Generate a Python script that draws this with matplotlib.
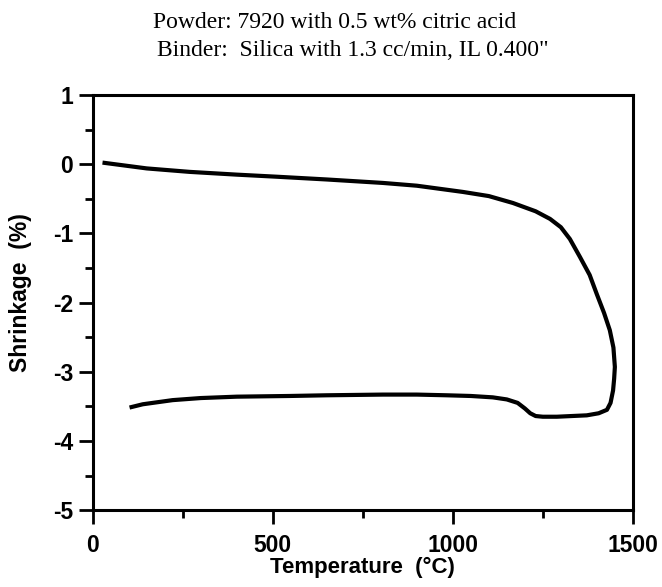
import numpy as np
import matplotlib.pyplot as plt
from matplotlib.ticker import MultipleLocator

plt.rcParams['font.family'] = ['Liberation Sans', 'DejaVu Sans']
plt.rcParams['axes.unicode_minus'] = False

# 收缩率曲线 (升温 -> 最高温 -> 降温)
temperature = [33, 150, 269, 400, 511, 650, 806, 900, 1028, 1100, 1167, 1230,
               1270, 1300, 1325, 1353, 1380, 1400, 1420, 1436, 1446, 1450, 1448,
               1445, 1438, 1428, 1405, 1372, 1330, 1289, 1250, 1230, 1215, 1200,
               1180, 1150, 1111, 1050, 983, 900, 806, 650, 547, 400, 300, 222,
               139, 108]
shrinkage = [0.02, -0.06, -0.11, -0.15, -0.18, -0.22, -0.27, -0.31, -0.40, -0.46,
             -0.56, -0.68, -0.79, -0.91, -1.08, -1.34, -1.60, -1.88, -2.15, -2.40,
             -2.65, -2.93, -3.10, -3.27, -3.45, -3.55, -3.60, -3.63, -3.64, -3.65,
             -3.65, -3.64, -3.60, -3.53, -3.45, -3.40, -3.37, -3.35, -3.34, -3.33,
             -3.33, -3.34, -3.35, -3.36, -3.38, -3.41, -3.47, -3.51]

fig = plt.figure(figsize=(6.62, 5.87), dpi=100)
ax = fig.add_axes([0.140, 0.131, 0.816, 0.707])

ax.plot(temperature, shrinkage, color='black', linewidth=3)

ax.set_xlim(0, 1500)
ax.set_ylim(-5, 1)
ax.xaxis.set_major_locator(MultipleLocator(500))
ax.xaxis.set_minor_locator(MultipleLocator(250))
ax.yaxis.set_major_locator(MultipleLocator(1))
ax.yaxis.set_minor_locator(MultipleLocator(0.5))

ax.tick_params(axis='both', which='major', direction='out', length=10, width=2,
               labelsize=16.5)
ax.tick_params(axis='both', which='minor', direction='out', length=6, width=2)
ax.tick_params(axis='x', which='major', pad=7)
ax.tick_params(axis='y', which='major', pad=4)
for lbl in ax.get_xticklabels() + ax.get_yticklabels():
    lbl.set_fontweight('bold')

for sp in ax.spines.values():
    sp.set_linewidth(2.2)

ax.set_xlabel('Temperature  (°C)', fontsize=16, fontweight='bold', labelpad=0)
ax.set_ylabel('Shrinkage  (%)', fontsize=16.5, fontweight='bold')
ax.yaxis.set_label_coords(-0.112, 0.525)

fig.text(0.506, 0.962, 'Powder: 7920 with 0.5 wt% citric acid', ha='center', va='center',
         fontsize=17, family='Liberation Serif')
fig.text(0.533, 0.914, 'Binder:  Silica with 1.3 cc/min, IL 0.400"', ha='center', va='center',
         fontsize=17, family='Liberation Serif')

fig.savefig('out.png', dpi=100, facecolor='white')
